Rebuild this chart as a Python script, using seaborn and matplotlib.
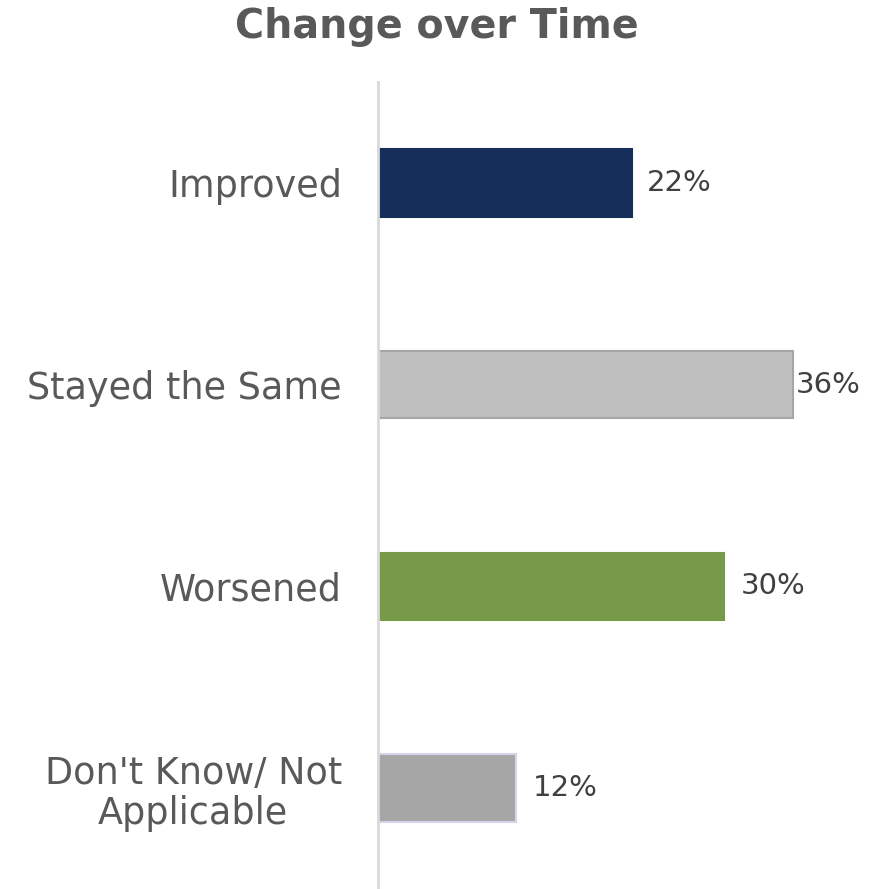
import matplotlib
matplotlib.use("Agg")
import matplotlib.pyplot as plt
import seaborn as sns
import pandas as pd

categories = ["Improved", "Stayed the Same", "Worsened", "Don't Know/ Not\nApplicable"]
values = [22, 36, 30, 12]
value_labels = ["22%", "36%", "30%", "12%"]

fill_colors = ["#152f5a", "#bfbfbf", "#769a48", "#a6a6a6"]
edge_colors = ["#152f5a", "#a6a6a6", "#769a48", "#d4d4ea"]
label_pad = [11, 2, 12, 12]  # points between bar end and value label

sns.set_theme(style="white")
plt.rcParams["font.family"] = ["DejaVu Sans"]

df = pd.DataFrame({"category": categories, "value": values})

fig = plt.figure(figsize=(8.89, 8.89), dpi=100)
ax = fig.add_axes([378 / 889, 0.0, 1 - 378 / 889, 1 - 82 / 889])

sns.barplot(data=df, y="category", x="value", hue="category",
            palette=fill_colors, orient="h", width=0.335, legend=False,
            ax=ax, saturation=1)

for patch, ec in zip(ax.patches, edge_colors):
    patch.set_edgecolor(ec)
    patch.set_linewidth(1.5)

for i, (v, txt) in enumerate(zip(values, value_labels)):
    ax.annotate(txt, xy=(v, i), xytext=(label_pad[i], 0),
                textcoords="offset points", va="center", ha="left",
                fontsize=21, color="#404040")

ax.set_xlim(0, 44.3)
ax.set_ylim(3.5, -0.5)
ax.set_xlabel("")
ax.set_ylabel("")
ax.set_xticks([])
ax.tick_params(axis="y", length=0, pad=26)
for lbl in ax.get_yticklabels():
    lbl.set_fontsize(26.3)
    lbl.set_color("#595959")
    lbl.set_multialignment("center")
    lbl.set_linespacing(1.1)

for side in ["top", "right", "bottom"]:
    ax.spines[side].set_visible(False)
ax.spines["left"].set_color("#d9d9d9")
ax.spines["left"].set_linewidth(2)

fig.text(437 / 889, 1 - 38 / 889, "Change over Time", ha="center", va="baseline",
         fontsize=28.5, fontweight="bold", color="#595959")

fig.savefig("out.png", dpi=100)
